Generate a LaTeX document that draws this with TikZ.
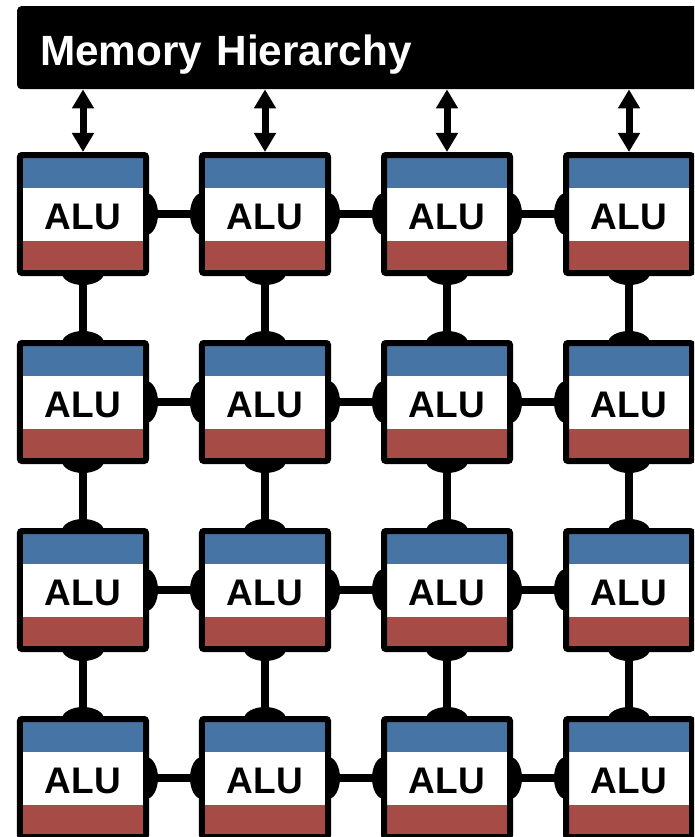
\documentclass[tikz,border=0pt]{standalone}
\usepackage{fontspec}
\newfontfamily\arial{Liberation Sans}
\usetikzlibrary{matrix,arrows.meta}
\definecolor{alublue}{HTML}{4674A4}
\definecolor{alured}{HTML}{A64B45}
\pgfdeclarelayer{back}
\pgfsetlayers{back,main}

\begin{document}
\begin{tikzpicture}[x=1pt,y=-1pt,ampersand replacement=\&,
  alu/.style={draw,line width=6pt,rounded corners=2pt,fill=white,
    minimum width=126pt,minimum height=118pt,inner sep=0pt,outer sep=0pt,
    font=\arial\bfseries\fontsize{37}{40}\selectfont,text height=31.5pt,text depth=0pt,
    path picture={
      \fill[alublue,sharp corners] (path picture bounding box.north west)
        rectangle ([yshift=-33pt]path picture bounding box.north east);
      \fill[alured,sharp corners] (path picture bounding box.south west)
        rectangle ([yshift=32pt]path picture bounding box.south east);}},
  link/.style={line width=8pt},
  duplex/.style={line width=7pt,{Triangle[width=21pt,length=19pt]}-{Triangle[width=21pt,length=19pt]}}]
  \useasboundingbox (0,0) rectangle (694,837);
  \clip (0,0) rectangle (694,837);
  \node (mem) [anchor=north west,fill=black,rounded corners=4pt,minimum height=83pt,
    text width=660pt,inner xsep=23pt,inner ysep=0pt,align=left,text=white,
    font=\arial\bfseries\fontsize{42.3}{44}\selectfont,text height=34.8pt,text depth=0pt]
    at (17,6) {Memory Hierarchy};
  \matrix(m)[matrix of nodes,anchor=north west,inner sep=0pt,outer sep=0pt,
    row sep=64pt,column sep=50pt,nodes={alu}] at (17,152)
  { ALU \& ALU \& ALU \& ALU \\
    ALU \& ALU \& ALU \& ALU \\
    ALU \& ALU \& ALU \& ALU \\
    ALU \& ALU \& ALU \& ALU \\};
  \foreach \j in {1,...,4}
    \draw[duplex,shorten >=3pt] (mem.south -| m-1-\j.north) -- (m-1-\j.north);
  \begin{pgfonlayer}{back}
    \foreach \i in {1,...,4} {
      \foreach \j [evaluate=\j as \k using int(\j+1)] in {1,2,3} {
        \draw[link] (m-\i-\j) -- (m-\i-\k);
        \fill (m-\i-\j.east) ellipse [x radius=12pt,y radius=21pt]
              (m-\i-\k.west) ellipse [x radius=12pt,y radius=21pt];
      }
    }
    \foreach \j in {1,...,4} {
      \foreach \i [evaluate=\i as \k using int(\i+1)] in {1,2,3} {
        \draw[link] (m-\i-\j) -- (m-\k-\j);
        \fill (m-\i-\j.south) ellipse [x radius=21pt,y radius=12pt]
              (m-\k-\j.north) ellipse [x radius=21pt,y radius=12pt];
      }
    }
  \end{pgfonlayer}
\end{tikzpicture}
\end{document}
